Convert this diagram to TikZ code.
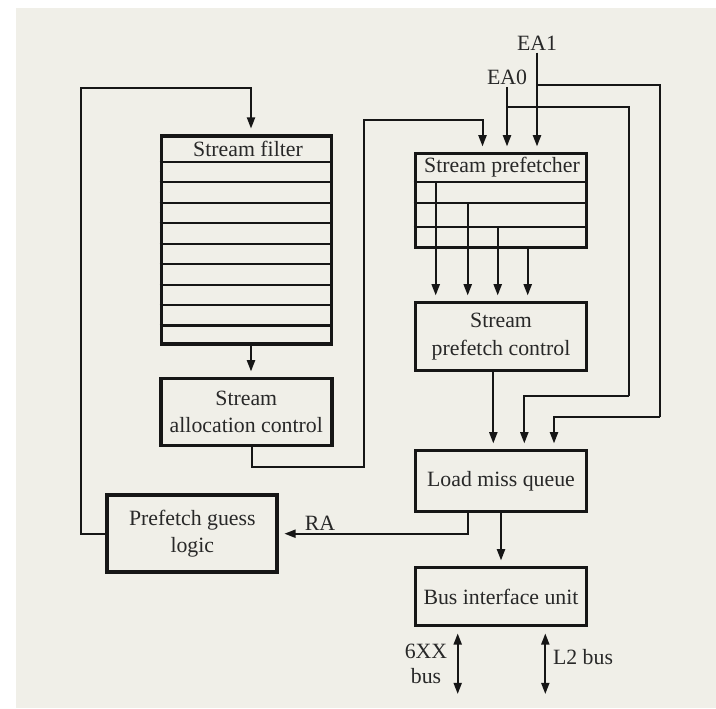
\documentclass[tikz,border=0pt]{standalone}
\usepackage{fontspec}
\setmainfont{Liberation Serif}
\usetikzlibrary{arrows.meta}
\definecolor{paper}{RGB}{240,239,232}
\definecolor{ink}{RGB}{22,22,22}
\definecolor{txt}{RGB}{40,40,40}
\begin{document}
\begin{tikzpicture}[x=0.5pt,y=-0.5pt,
  lbl/.style={font=\fontsize{10.9}{13.6}\selectfont, text=txt, inner sep=1pt},
  block/.style={draw=ink, line width=1.9pt, inner sep=0pt, align=center,
                font=\fontsize{10.9}{13.6}\selectfont, text=txt},
  wire/.style={draw=ink, line width=1pt},
  tip/.tip={Triangle[length=5.6pt,width=4pt]},
  arr/.style={wire, -tip, shorten >=2.6pt},
  biarr/.style={wire, tip-tip, shorten >=3pt},
  cell/.style={draw=ink, line width=1.05pt}]

% canvas
\useasboundingbox (0,0) rectangle (716,708);
\fill[white] (0,0) rectangle (716,708);
\fill[paper] (16,8) rectangle (716,708);

% blocks
\node[block, minimum width=85pt,   minimum height=104.3pt] (sf)  at (246.5,240)   {};
\node[block, minimum width=85.5pt, minimum height=47pt]    (sp)  at (501,200.5)   {};
\node[block, minimum width=85.5pt, minimum height=34pt]    (spc) at (501,336.5)   {Stream\\prefetch control};
\node[block, minimum width=85.5pt, minimum height=33.5pt]  (sac) at (246.3,412)   {Stream\\allocation control};
\node[block, minimum width=85.5pt, minimum height=30.5pt]  (lmq) at (501,481)     {Load miss queue};
\node[block, minimum width=85.5pt, minimum height=29pt]    (biu) at (501,596.5)   {Bus interface unit};
\node[block, minimum width=85pt,   minimum height=38.5pt]  (pgl) at (192.3,533.7) {Prefetch guess\\logic};

% stream filter table
\node[lbl] (sftitle) at (248,149) {Stream filter};
\draw[cell] (sf.west |- 0,162) -- (sf.east |- 0,162);
\foreach \k in {1,...,8}
  \draw[cell] (sf.west |- 0,{162+20.44*\k}) -- (sf.east |- 0,{162+20.44*\k});

% stream prefetcher table
\node[lbl] (sptitle) at (502,167) {Stream prefetcher};
\foreach \yy in {181.7,203.3,227.3}
  \draw[cell] (sp.west |- 0,\yy) -- (sp.east |- 0,\yy);

% prefetcher outputs into the prefetch control
\draw[arr] (435.7,181.7) -- (435.7,0 |- spc.north);
\draw[arr] (467.7,203.3) -- (467.7,0 |- spc.north);
\draw[arr] (497.7,227.3) -- (497.7,0 |- spc.north);
\draw[arr] (527.7,0 |- sp.south) -- (527.7,0 |- spc.north);

% feedback loop from the guess logic to the stream filter
\coordinate (loopTop) at (80.7,87.7);
\coordinate (sfIn)  at ([xshift=2.25pt]sf.north);
\coordinate (sfOut) at ([xshift=2.25pt]sf.south);
\draw[arr] (pgl.west) -| (loopTop) -| (sfIn);
\draw[arr] (sfOut) -- (sfOut |- sac.north);

% allocation control to the prefetcher
\coordinate (sacOut) at ([xshift=3pt]sac.south);
\coordinate (jLow) at (363.5,467.3);
\coordinate (jHigh) at (363.5,119.5);
\draw[arr] (sacOut) |- (jLow) -- (jHigh) -| ([xshift=-9.25pt]sp.north);

% effective addresses
\node[lbl] (ea1) at (537,43) {EA1};
\node[lbl] (ea0) at (507,77) {EA0};
\draw[arr] (ea1.south) -- (ea1.south |- sp.north);
\draw[arr] (ea0.south) -- (ea0.south |- sp.north);
\coordinate (ea1b) at (537,84.7);
\coordinate (ea0b) at (507,107.3);
\draw[wire] (ea1b) -| (660,417.3);
\draw[arr] (660,417.3) -| ([xshift=26.5pt]lmq.north);
\draw[wire] (ea0b) -| (629.3,396);
\draw[arr] (629.3,396) -| ([xshift=11.65pt]lmq.north);

% prefetch control to the load miss queue
\draw[arr] ([xshift=-3.85pt]spc.south) -- ([xshift=-3.85pt]lmq.north);

% load miss queue outputs
\draw[arr] ([xshift=-16.65pt]lmq.south) |- (pgl.east);
\node[lbl] (ra) at (320,523) {RA};
\draw[arr] (lmq.south) -- (biu.north);

% external buses
\coordinate (bus6) at (457.7,694);
\coordinate (busL2) at (545.3,694);
\draw[biarr] (bus6) -- (bus6 |- biu.south);
\draw[biarr] (busL2) -- (busL2 |- biu.south);
\node[lbl, align=center, font=\fontsize{10.9}{12.5}\selectfont] (b6lbl) at (426,663.5) {6XX\\bus};
\node[lbl] (l2lbl) at (583,657) {L2 bus};
\end{tikzpicture}
\end{document}
